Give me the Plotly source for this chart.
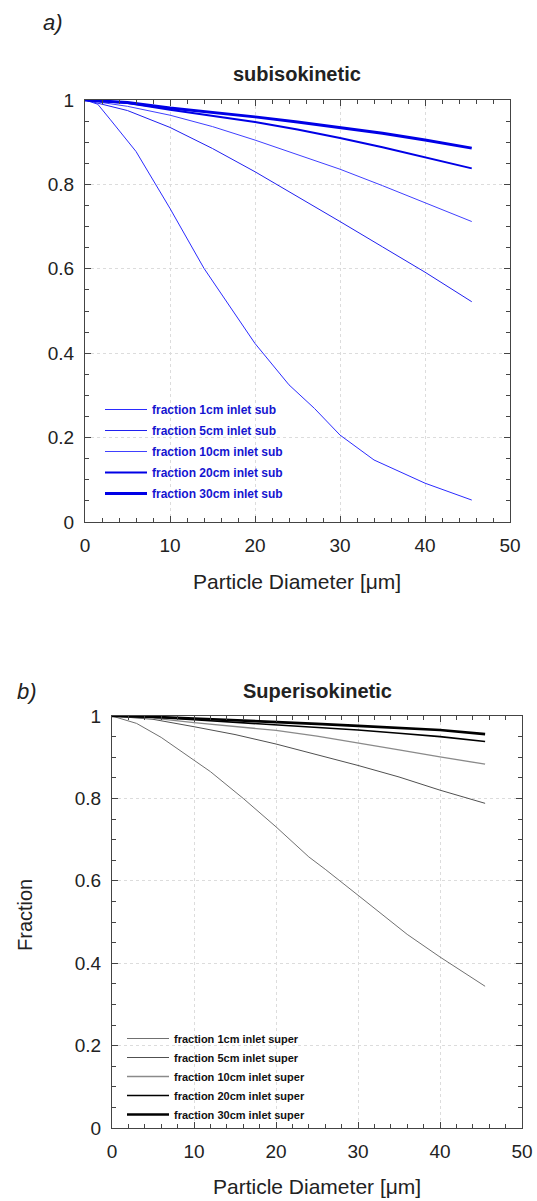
import plotly.graph_objects as go

labels_sub = ["fraction 1cm inlet sub", "fraction 5cm inlet sub", "fraction 10cm inlet sub",
              "fraction 20cm inlet sub", "fraction 30cm inlet sub"]
labels_super = ["fraction 1cm inlet super", "fraction 5cm inlet super", "fraction 10cm inlet super",
                "fraction 20cm inlet super", "fraction 30cm inlet super"]

d_steep_sub = [0, 1.5, 3, 6, 10, 14, 20, 24, 27, 30, 34, 40, 45.5]
f_1cm_sub = [1, 0.99, 0.953, 0.878, 0.743, 0.601, 0.423, 0.325, 0.269, 0.206, 0.147, 0.092, 0.052]

d_common = [0, 5, 10, 15, 20, 25, 30, 35, 40, 45.5]
f_5cm_sub = [1, 0.975, 0.935, 0.885, 0.83, 0.772, 0.712, 0.652, 0.592, 0.522]
f_10cm_sub = [1, 0.985, 0.964, 0.937, 0.905, 0.871, 0.836, 0.797, 0.756, 0.712]
f_20cm_sub = [1, 0.993, 0.977, 0.963, 0.948, 0.930, 0.910, 0.888, 0.864, 0.838]
f_30cm_sub = [1, 0.994, 0.981, 0.971, 0.960, 0.948, 0.935, 0.921, 0.905, 0.886]

d_steep_super = [0, 3, 6, 10, 12, 16, 20, 24, 26, 30, 36, 40, 45.5]
f_1cm_super = [1, 0.982, 0.948, 0.893, 0.865, 0.80, 0.731, 0.658, 0.628, 0.565, 0.47, 0.415, 0.344]
f_5cm_super = [1, 0.992, 0.974, 0.955, 0.932, 0.906, 0.880, 0.852, 0.820, 0.788]
f_10cm_super = [1, 0.995, 0.984, 0.975, 0.965, 0.951, 0.935, 0.918, 0.901, 0.883]
f_20cm_super = [1, 0.997, 0.991, 0.985, 0.978, 0.972, 0.966, 0.958, 0.950, 0.938]
f_30cm_super = [1, 0.998, 0.994, 0.990, 0.985, 0.981, 0.976, 0.971, 0.966, 0.956]

FONT = "Liberation Sans, Arial, sans-serif"
W, H = 537, 1201

sub_series = [(d_steep_sub, f_1cm_sub), (d_common, f_5cm_sub), (d_common, f_10cm_sub),
              (d_common, f_20cm_sub), (d_common, f_30cm_sub)]
super_series = [(d_steep_super, f_1cm_super), (d_common, f_5cm_super), (d_common, f_10cm_super),
                (d_common, f_20cm_super), (d_common, f_30cm_super)]
sub_style = [("#2b2bff", 1), ("#2020f0", 1), ("#4040ff", 1), ("#0000e6", 2), ("#0000e6", 3)]
super_style = [("#707070", 1), ("#505050", 1), ("#8a8a8a", 1.3), ("#000000", 1.6), ("#000000", 2.6)]

fig = go.Figure()
for i, ((x, y), name, (c, w)) in enumerate(zip(sub_series, labels_sub, sub_style)):
    fig.add_trace(go.Scatter(x=x, y=y, mode="lines", name=name, line=dict(color=c, width=w),
                             xaxis="x", yaxis="y", legend="legend", legendgroup=f"a{i}"))
for i, ((x, y), name, (c, w)) in enumerate(zip(super_series, labels_super, super_style)):
    fig.add_trace(go.Scatter(x=x, y=y, mode="lines", name=name, line=dict(color=c, width=w),
                             xaxis="x2", yaxis="y2", legend="legend2", legendgroup=f"b{i}"))


def px(v):
    return v / W


def py(v):
    return 1 - v / H


def ax(domain, anchor, dtick, minor, rng):
    return dict(domain=domain, anchor=anchor, range=rng, dtick=dtick, tick0=0, automargin=False,
                showline=True, linecolor="#444", linewidth=1.2, mirror="allticks",
                ticks="inside", ticklen=6, tickcolor="#444", ticklabelstandoff=6,
                showgrid=True, gridcolor="#dcdcdc", griddash="dot", gridwidth=1,
                zeroline=False, tickfont=dict(size=19, color="#222", family=FONT),
                minor=dict(dtick=minor, ticks="inside", ticklen=4, tickcolor="#444", showgrid=False))


fig.update_layout(
    width=W, height=H, margin=dict(l=0, r=0, t=0, b=0, autoexpand=False),
    paper_bgcolor="white", plot_bgcolor="white",
    font=dict(family=FONT, color="#222"),
    xaxis=ax([px(85), px(510)], "y", 10, 2, [0, 50]),
    yaxis=ax([py(522), py(100)], "x", 0.2, 0.05, [0, 1]),
    xaxis2=ax([px(112), px(522)], "y2", 10, 2, [0, 50]),
    yaxis2=ax([py(1128), py(716)], "x2", 0.2, 0.05, [0, 1]),
    legend=dict(x=px(100), y=py(395), xanchor="left", yanchor="top", bgcolor="rgba(0,0,0,0)",
                itemwidth=42, tracegroupgap=2, itemclick=False,
                font=dict(size=12, color="#1515d0", family=FONT, weight="bold")),
    legend2=dict(x=px(122), y=py(1024), xanchor="left", yanchor="top", bgcolor="rgba(0,0,0,0)",
                 itemwidth=42, tracegroupgap=0, itemclick=False,
                 font=dict(size=11, color="#111", family=FONT, weight="bold")),
    showlegend=True,
)

annotations = [
    ("a)", px(53), py(22), 22, "italic", "normal", 0),
    ("subisokinetic", px(297), py(74), 20, "normal", "bold", 0),
    ("Particle Diameter [\u03bcm]", px(297), py(581), 21, "normal", "normal", 0),
    ("b)", px(27), py(691), 22, "italic", "normal", 0),
    ("Superisokinetic", px(317), py(691), 20, "normal", "bold", 0),
    ("Particle Diameter [\u03bcm]", px(317), py(1186), 21, "normal", "normal", 0),
    ("Fraction", px(25), py(915), 20, "normal", "normal", -90),
]
for text, x, y, size, style, weight, angle in annotations:
    fig.add_annotation(text=text, x=x, y=y, xref="paper", yref="paper", showarrow=False,
                       xanchor="center", yanchor="middle", textangle=angle,
                       font=dict(size=size, family=FONT, color="#222", style=style, weight=weight))

# the page body has a default 8px margin; drop it so the figure fills the window
fig.write_html("out.html", config={"displayModeBar": False},
               post_script="document.body.style.margin='0';document.body.style.overflow='hidden';")
